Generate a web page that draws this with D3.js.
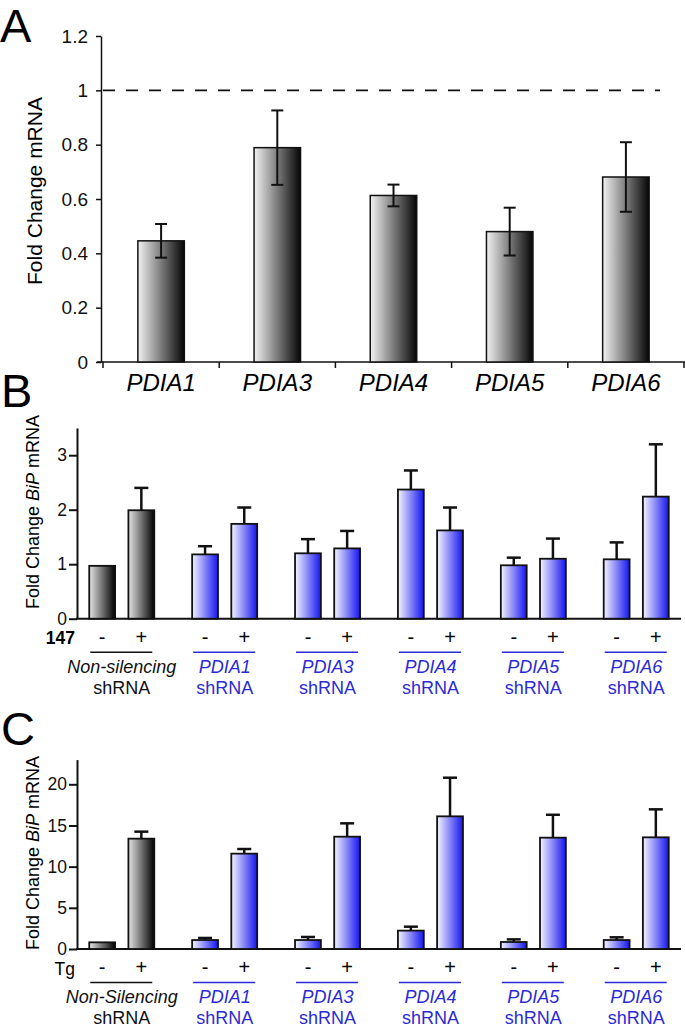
<!DOCTYPE html>
<html><head><meta charset="utf-8">
<script src="https://cdn.jsdelivr.net/npm/d3@7"></script>
<style>body{margin:0;background:#fff}svg{display:block;font-family:"Liberation Sans",Arial,sans-serif}</style>
</head><body>
<svg id="c" width="685" height="1029"></svg>
<script>
// ---- Panel A data ----
const catsA = ["PDIA1","PDIA3","PDIA4","PDIA5","PDIA6"];
const valsA = [0.446,0.789,0.613,0.48,0.681];
const errA  = [0.062,0.137,0.04,0.088,0.128];
const ticksA = [0,0.2,0.4,0.6,0.8,1,1.2];
const refLineA = 1;

// ---- Panels B & C data ----
const groups = ["Non-silencing","PDIA1","PDIA3","PDIA4","PDIA5","PDIA6"];
const groupNamesC = ["Non-Silencing","PDIA1","PDIA3","PDIA4","PDIA5","PDIA6"];
const treat = ["-","+"];
const valsBminus = [0.97,1.18,1.20,2.37,0.98,1.09];
const valsBplus  = [1.99,1.74,1.29,1.62,1.10,2.24];
const errBminus  = [0,0.15,0.26,0.35,0.14,0.31];
const errBplus   = [0.41,0.30,0.32,0.42,0.37,0.96];
const ticksB = [0,1,2,3];

const valsCminus = [0.81,1.09,1.09,2.23,0.85,1.09];
const valsCplus  = [13.40,11.58,13.64,16.11,13.52,13.56];
const errCminus  = [0,0.25,0.37,0.48,0.32,0.33];
const errCplus   = [0.85,0.56,1.62,4.69,2.78,3.40];
const ticksC = [0,5,10,15,20];

const svg = d3.select("#c");
const defs = svg.append("defs");
function grad(id, c0, c1){
  const g = defs.append("linearGradient").attr("id",id).attr("x1","0%").attr("x2","100%").attr("y1","0%").attr("y2","0%");
  g.append("stop").attr("offset","0%").attr("stop-color",c0);
  g.append("stop").attr("offset","100%").attr("stop-color",c1);
}
grad("gA","#f2f2f2","#050505");
grad("gGray","#e6e6e6","#000000");
grad("gBlue","#f5f5ff","#1515f0");
const BLUE = "#2b2bd6";

// ================= Panel A =================
svg.append("text").attr("x",0).attr("y",42).attr("font-size",47).text("A");
const yA = d3.scaleLinear().domain([0,1.2]).range([362,36]);
const xA = d3.scaleBand().domain(catsA).range([103,684]).paddingInner(0.6).paddingOuter(0.3);
const gA = svg.append("g");
const axA = gA.append("g").attr("transform","translate(101,0)")
  .call(d3.axisLeft(yA).tickValues(ticksA).tickSize(5).tickSizeOuter(0).tickPadding(8).tickFormat(d=>String(d)));
axA.selectAll("text").attr("font-size",19).attr("font-family","Liberation Sans, Arial, sans-serif").attr("fill","#111");
axA.selectAll("line,path").attr("stroke","#111").attr("stroke-width",1.5);
gA.append("line").attr("x1",97).attr("x2",685).attr("y1",yA(0)).attr("y2",yA(0)).attr("stroke","#111").attr("stroke-width",1.5);
const stepA = xA.step();
const bounds = catsA.map(c=>xA(c)+xA.bandwidth()/2-stepA/2).concat([xA(catsA[catsA.length-1])+xA.bandwidth()/2+stepA/2]);
gA.selectAll(".bt").data(bounds).join("line").attr("x1",d=>d).attr("x2",d=>d)
  .attr("y1",yA(0)).attr("y2",yA(0)+6).attr("stroke","#111").attr("stroke-width",1.5);
gA.append("line").attr("x1",103).attr("x2",660).attr("y1",yA(refLineA)).attr("y2",yA(refLineA))
  .attr("stroke","#111").attr("stroke-width",1.6).attr("stroke-dasharray","12,11");
gA.selectAll(".ba").data(catsA).join("rect")
  .attr("x",c=>xA(c)).attr("width",xA.bandwidth())
  .attr("y",(c,i)=>yA(valsA[i])).attr("height",(c,i)=>yA(0)-yA(valsA[i]))
  .attr("fill","url(#gA)").attr("stroke","#111").attr("stroke-width",1.5);
catsA.forEach((c,i)=>{
  const cx = xA(c)+xA.bandwidth()/2, t=yA(valsA[i]+errA[i]), b=yA(valsA[i]-errA[i]);
  const e = gA.append("g").attr("stroke","#111").attr("stroke-width",2);
  e.append("line").attr("x1",cx).attr("x2",cx).attr("y1",t).attr("y2",b);
  e.append("line").attr("x1",cx-6).attr("x2",cx+6).attr("y1",t).attr("y2",t);
  e.append("line").attr("x1",cx-6).attr("x2",cx+6).attr("y1",b).attr("y2",b);
});
gA.selectAll(".la").data(catsA).join("text")
  .attr("x",c=>xA(c)+xA.bandwidth()/2).attr("y",391).attr("text-anchor","middle")
  .attr("font-size",24).attr("font-style","italic").text(c=>c);
gA.append("text").attr("transform","translate(42,191) rotate(-90)").attr("text-anchor","middle")
  .attr("font-size",21).text("Fold Change mRNA");

// ================= Panels B & C =================
function panel(opts){
  const {letter, letterY, y0, yTop, ymax, ticks, minus, plus, eminus, eplus, treatLabel, treatBold, names, labelCY} = opts;
  svg.append("text").attr("x",1).attr("y",letterY).attr("font-size",47).text(letter);
  const y = d3.scaleLinear().domain([0,ymax]).range([y0,yTop]);
  const xg = d3.scaleBand().domain(groups).range([77,681]).paddingInner(0.368).paddingOuter(0.119);
  const xi = d3.scaleBand().domain(treat).range([0,xg.bandwidth()]).paddingInner(0.34);
  const g = svg.append("g");
  const ax = g.append("g").attr("transform","translate(77,0)")
    .call(d3.axisLeft(y).tickValues(ticks).tickSize(8).tickSizeOuter(0).tickPadding(2).tickFormat(d=>String(d)));
  ax.selectAll("text").attr("font-size",17.5).attr("font-family","Liberation Sans, Arial, sans-serif").attr("fill","#111");
  ax.selectAll("line,path").attr("stroke","#111").attr("stroke-width",2);
  g.append("line").attr("x1",76).attr("x2",681).attr("y1",y0).attr("y2",y0).attr("stroke","#111").attr("stroke-width",2);
  const rows = [];
  groups.forEach((gr,i)=>{
    rows.push({g:gr,t:"-",v:minus[i],e:eminus[i],i});
    rows.push({g:gr,t:"+",v:plus[i],e:eplus[i],i});
  });
  rows.filter(r=>r.e>0).forEach(r=>{
    const cx = xg(r.g)+xi(r.t)+xi.bandwidth()/2, t=y(r.v+r.e);
    const e = g.append("g").attr("stroke","#111").attr("stroke-width",2.5);
    e.append("line").attr("x1",cx).attr("x2",cx).attr("y1",t).attr("y2",y(r.v));
    e.append("line").attr("x1",cx-7).attr("x2",cx+7).attr("y1",t).attr("y2",t);
  });
  g.selectAll(".b").data(rows).join("rect")
    .attr("x",r=>xg(r.g)+xi(r.t)).attr("width",xi.bandwidth())
    .attr("y",r=>y(r.v)).attr("height",r=>y0-y(r.v))
    .attr("fill",r=>r.i===0?"url(#gGray)":"url(#gBlue)")
    .attr("stroke","#111").attr("stroke-width",1.8);
  g.selectAll(".s").data(rows).join("text")
    .attr("x",r=>xg(r.g)+xi(r.t)+xi.bandwidth()/2).attr("y",y0+25).attr("text-anchor","middle")
    .attr("font-size",20).text(r=>r.t);
  g.append("text").attr("x",75).attr("y",y0+25.5).attr("text-anchor","end").attr("font-size",17.5)
    .attr("font-weight",treatBold?"bold":"normal").text(treatLabel);
  g.selectAll(".u").data(groups).join("line")
    .attr("x1",d=>xg(d)+1).attr("x2",d=>xg(d)+xg.bandwidth()-2)
    .attr("y1",y0+33.6).attr("y2",y0+33.6)
    .attr("stroke",(d,i)=>i===0?"#111":BLUE).attr("stroke-width",1.5);
  g.selectAll(".n").data(groups).join("text")
    .attr("x",d=>xg(d)+xg.bandwidth()/2).attr("y",y0+54).attr("text-anchor","middle")
    .attr("font-size",18).attr("font-style","italic").attr("fill",(d,i)=>i===0?"#111":BLUE)
    .text((d,i)=>names[i]);
  g.selectAll(".sh").data(groups).join("text")
    .attr("x",d=>xg(d)+xg.bandwidth()/2).attr("y",y0+75).attr("text-anchor","middle")
    .attr("font-size",18).attr("fill",(d,i)=>i===0?"#111":BLUE).text("shRNA");
  const yl = g.append("text").attr("transform",`translate(39,${labelCY}) rotate(-90)`).attr("text-anchor","middle").attr("font-size",18);
  yl.append("tspan").text("Fold Change ");
  yl.append("tspan").attr("font-style","italic").text("BiP");
  yl.append("tspan").text(" mRNA");
}
panel({letter:"B", letterY:406.5, y0:618.7, yTop:618.7-3.5*54.5, ymax:3.5, ticks:ticksB,
  minus:valsBminus, plus:valsBplus, eminus:errBminus, eplus:errBplus, treatLabel:"147", treatBold:true,
  names:groups, labelCY:512});
panel({letter:"C", letterY:745, y0:949, yTop:949-23*8.235, ymax:23, ticks:ticksC,
  minus:valsCminus, plus:valsCplus, eminus:errCminus, eplus:errCplus, treatLabel:"Tg", treatBold:false,
  names:groupNamesC, labelCY:853});
</script>
</body></html>
